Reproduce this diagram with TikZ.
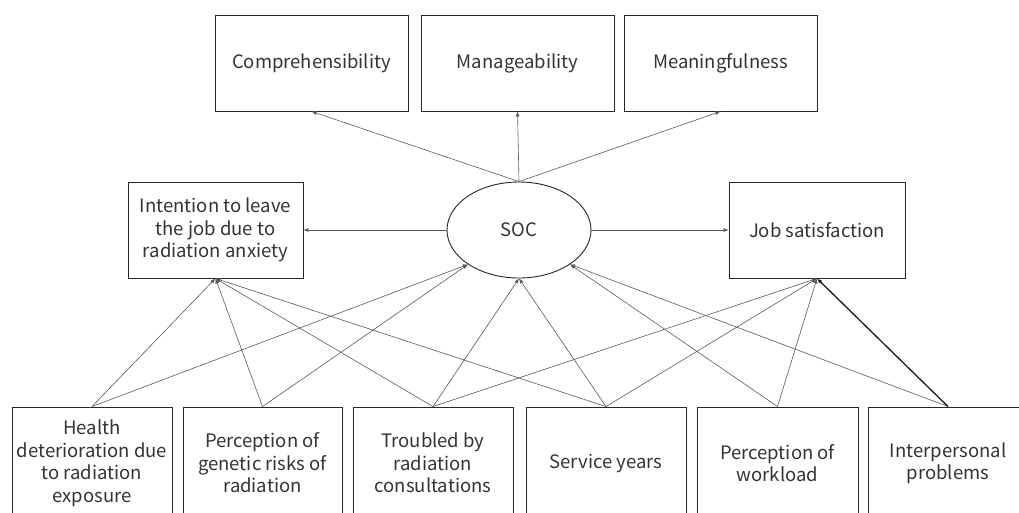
\documentclass[tikz,border=0pt]{standalone}
\usepackage{fontspec}
\setmainfont{Noto Sans CJK JP}
\usetikzlibrary{arrows.meta,shapes.geometric}
\begin{document}
\begin{tikzpicture}[x=1pt,y=-1pt,
 box/.style={draw=black!85,line width=0.9pt,rectangle,align=center,inner sep=0pt,text=black!80,font=\fontsize{18.5}{22.5}\selectfont},
 arr/.style={draw=black!65,line width=0.6pt,-{Latex[length=5pt,width=4pt]}},
 thick arr/.style={draw=black!90,line width=1.3pt,-{Latex[length=5pt,width=4pt]}},
]
\useasboundingbox (0,0) rectangle (1019,512);
\begin{scope}
\clip (0,0) rectangle (1019,512);
% top boxes
\node[box,minimum width=193pt,minimum height=96pt] (comp) at (311.5,63) {Comprehensibility};
\node[box,minimum width=193pt,minimum height=96pt] (man) at (517.5,63) {Manageability};
\node[box,minimum width=193pt,minimum height=96pt] (mean) at (720.5,63) {Meaningfulness};
% middle
\node[box,minimum width=175pt,minimum height=96pt] (int) at (215.5,230) {Intention to leave\\the job due to\\radiation anxiety};
\node[box,ellipse,minimum width=144pt,minimum height=96pt] (soc) at (519,230) {SOC};
\node[box,minimum width=176pt,minimum height=96pt] (job) at (817,230) {Job satisfaction};
% bottom
\node[box,minimum width=160pt,minimum height=112pt] (b1) at (92,463) {Health\\deterioration due\\to radiation\\exposure};
\node[box,minimum width=159pt,minimum height=112pt] (b2) at (262.5,463) {Perception of\\genetic risks of\\radiation};
\node[box,minimum width=160pt,minimum height=112pt] (b3) at (433,463) {Troubled by\\radiation\\consultations};
\node[box,minimum width=160pt,minimum height=112pt] (b4) at (606,463) {Service years};
\node[box,minimum width=161pt,minimum height=112pt] (b5) at (777.5,463) {Perception of\\workload};
\node[box,minimum width=160pt,minimum height=112pt] (b6) at (948,463) {Interpersonal\\problems};
\end{scope}
% SOC to top
\draw[arr] (soc.north) -- (comp.south);
\draw[arr] (soc.north) -- (man.south);
\draw[arr] (soc.north) -- (mean.south);
\draw[arr] (soc.west) -- (int.east);
\draw[arr] (soc.east) -- (job.east -| job.west);
% bottom to middle
\draw[arr] (b1.north) -- (int.south);
\draw[arr] (b1.north) -- (soc.214);
\draw[arr] (b2.north) -- (int.south);
\draw[arr] (b2.north) -- (soc.214);
\draw[arr] (b3.north) -- (int.south);
\draw[arr] (b3.north) -- (soc.south);
\draw[arr] (b3.north) -- (job.south);
\draw[arr] (b4.north) -- (int.south);
\draw[arr] (b4.north) -- (soc.south);
\draw[arr] (b4.north) -- (job.south);
\draw[arr] (b5.north) -- (soc.326);
\draw[arr] (b5.north) -- (job.south);
\draw[arr] (b6.north) -- (soc.326);
\draw[thick arr] (b6.north) -- (job.south);
\end{tikzpicture}
\end{document}
